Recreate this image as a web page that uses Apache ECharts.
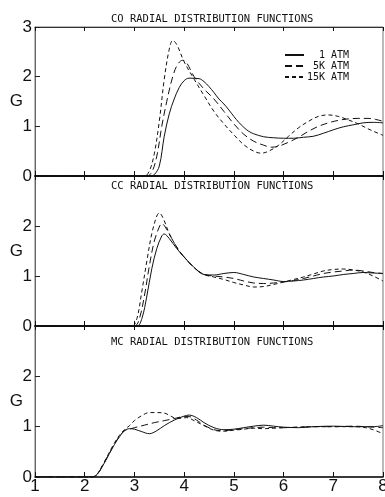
<!DOCTYPE html>
<html><head><meta charset="utf-8">
<script src="https://cdn.jsdelivr.net/npm/echarts@6/dist/echarts.min.js"></script>
<style>html,body{margin:0;padding:0;background:#fff}#c{width:385px;height:497px}</style>
</head><body><div id="c"></div>
<script>
// Panel titles and legend names
const titles = ['CO RADIAL DISTRIBUTION FUNCTIONS','CC RADIAL DISTRIBUTION FUNCTIONS','MC RADIAL DISTRIBUTION FUNCTIONS'];
const names = ['  1 ATM',' 5K ATM','15K ATM'];
const xTicks = [1,2,3,4,5,6,7,8];
const yTicks = [0,1,2,3];

// Panel 1: [R, G]
const p1_1atm = [[1,0],[3.3,0],[3.4,0.03],[3.5,0.2],[3.6,0.8],[3.7,1.25],[3.8,1.55],[3.9,1.78],[4.0,1.92],[4.1,1.97],[4.3,1.96],[4.4,1.9],[4.5,1.8],[4.6,1.68],[4.7,1.55],[4.8,1.45],[4.9,1.33],[5.0,1.2],[5.1,1.08],[5.2,0.98],[5.3,0.9],[5.4,0.85],[5.6,0.79],[5.8,0.77],[6.0,0.76],[6.2,0.76],[6.4,0.78],[6.6,0.8],[6.8,0.86],[7.0,0.93],[7.2,0.99],[7.4,1.03],[7.6,1.07],[7.8,1.08],[8.0,1.07]];
const p1_5k = [[1,0],[3.25,0],[3.35,0.08],[3.45,0.4],[3.55,1.0],[3.65,1.5],[3.77,2.0],[3.87,2.25],[3.97,2.33],[4.05,2.28],[4.2,2.0],[4.4,1.75],[4.6,1.55],[4.8,1.3],[5.0,1.05],[5.2,0.84],[5.4,0.7],[5.6,0.62],[5.75,0.58],[5.9,0.6],[6.1,0.68],[6.3,0.78],[6.5,0.9],[6.7,1.0],[6.9,1.07],[7.1,1.12],[7.3,1.15],[7.5,1.16],[7.7,1.16],[7.85,1.14],[8.0,1.1]];
const p1_15k = [[1,0],[3.2,0],[3.3,0.1],[3.4,0.45],[3.5,1.1],[3.6,1.95],[3.7,2.55],[3.77,2.73],[3.85,2.65],[4.0,2.3],[4.2,1.95],[4.4,1.62],[4.6,1.3],[4.8,1.05],[5.0,0.83],[5.2,0.63],[5.4,0.5],[5.55,0.46],[5.7,0.5],[5.9,0.62],[6.1,0.8],[6.3,0.97],[6.5,1.1],[6.7,1.2],[6.9,1.23],[7.1,1.2],[7.3,1.13],[7.5,1.05],[7.7,0.95],[7.9,0.86],[8.0,0.82]];

// Panel 2
const p2_1atm = [[1,0],[3.05,0],[3.15,0.15],[3.25,0.6],[3.35,1.15],[3.45,1.55],[3.55,1.8],[3.6,1.84],[3.7,1.75],[3.85,1.55],[4.0,1.38],[4.2,1.17],[4.4,1.03],[4.6,1.02],[4.8,1.05],[5.0,1.07],[5.2,1.03],[5.4,0.98],[5.6,0.95],[5.8,0.92],[6.0,0.89],[6.2,0.9],[6.4,0.92],[6.6,0.95],[6.8,0.98],[7.0,1.0],[7.2,1.03],[7.4,1.05],[7.6,1.07],[7.8,1.06],[8.0,1.05]];
const p2_5k = [[1,0],[3.0,0],[3.1,0.15],[3.2,0.6],[3.3,1.2],[3.4,1.7],[3.5,1.98],[3.55,2.05],[3.62,1.98],[3.75,1.75],[3.9,1.5],[4.0,1.38],[4.2,1.17],[4.4,1.03],[4.6,1.0],[4.8,0.98],[5.0,0.95],[5.2,0.9],[5.4,0.86],[5.6,0.85],[5.8,0.86],[6.0,0.88],[6.2,0.91],[6.4,0.95],[6.6,1.0],[6.8,1.05],[7.0,1.08],[7.2,1.1],[7.4,1.12],[7.6,1.1],[7.8,1.07],[8.0,1.05]];
const p2_15k = [[1,0],[2.95,0],[3.05,0.15],[3.15,0.7],[3.25,1.3],[3.35,1.85],[3.45,2.2],[3.5,2.26],[3.58,2.15],[3.7,1.85],[3.85,1.58],[4.0,1.38],[4.2,1.17],[4.4,1.03],[4.6,0.98],[4.8,0.93],[5.0,0.87],[5.2,0.82],[5.4,0.78],[5.6,0.79],[5.8,0.83],[6.0,0.88],[6.2,0.93],[6.4,0.98],[6.6,1.04],[6.8,1.1],[7.0,1.13],[7.2,1.14],[7.4,1.12],[7.6,1.08],[7.8,1.0],[8.0,0.9]];

// Panel 3
const p3_1atm = [[1,0],[2.15,0],[2.25,0.05],[2.35,0.2],[2.5,0.47],[2.6,0.65],[2.7,0.8],[2.8,0.92],[2.9,0.96],[3.0,0.95],[3.15,0.9],[3.3,0.86],[3.45,0.92],[3.6,1.02],[3.8,1.13],[4.0,1.21],[4.1,1.23],[4.25,1.18],[4.4,1.08],[4.6,0.98],[4.8,0.94],[5.0,0.95],[5.2,0.98],[5.4,1.01],[5.6,1.03],[5.8,1.01],[6.0,0.99],[6.3,0.98],[6.6,1.0],[7.0,1.01],[7.4,1.0],[7.8,1.0],[8.0,1.02]];
const p3_5k = [[1,0],[2.15,0],[2.25,0.05],[2.35,0.21],[2.5,0.48],[2.6,0.66],[2.7,0.81],[2.8,0.92],[2.9,0.95],[3.0,0.98],[3.2,1.03],[3.4,1.08],[3.6,1.12],[3.8,1.16],[4.0,1.2],[4.1,1.2],[4.25,1.13],[4.4,1.03],[4.6,0.94],[4.8,0.92],[5.0,0.94],[5.2,0.96],[5.4,0.98],[5.6,0.99],[5.8,0.98],[6.0,0.98],[6.3,0.99],[6.6,1.0],[7.0,1.0],[7.4,1.01],[7.8,0.99],[8.0,0.98]];
const p3_15k = [[1,0],[2.15,0],[2.25,0.06],[2.35,0.22],[2.5,0.5],[2.6,0.68],[2.7,0.83],[2.8,0.94],[2.9,1.02],[3.0,1.12],[3.15,1.22],[3.3,1.28],[3.45,1.28],[3.6,1.27],[3.75,1.2],[3.85,1.16],[3.95,1.17],[4.05,1.18],[4.2,1.12],[4.4,1.02],[4.6,0.93],[4.8,0.91],[5.0,0.93],[5.2,0.95],[5.4,0.97],[5.6,0.96],[5.8,0.97],[6.0,0.98],[6.3,0.99],[6.6,1.0],[7.0,1.0],[7.4,1.0],[7.7,0.97],[8.0,0.86]];

const panels = [[p1_1atm,p1_5k,p1_15k],[p2_1atm,p2_5k,p2_15k],[p3_1atm,p3_5k,p3_15k]];
const dashes = ['solid',[7,4],[4,3]];

const chart = echarts.init(document.getElementById('c'), null, {renderer:'canvas'});
const numFont = {fontFamily:'Liberation Sans', fontSize:17, color:'#111'};
const grids = [{left:35,right:2,top:27,height:149},{left:35,right:2,top:176,height:150},{left:35,right:2,top:326,height:151}];
grids.forEach(g=>{g.show=true; g.borderColor='#777'; g.borderWidth=1; g.backgroundColor='transparent'; g.outerBoundsMode='none'; g.containLabel=false;});

const xAxes = [], yAxes = [], series = [];
for (let i=0;i<3;i++){
  xAxes.push({type:'value', gridIndex:i, min:xTicks[0], max:xTicks[xTicks.length-1], interval:1, position:'bottom',
    axisLine:{show:true, onZero:false, lineStyle:{color:'#111', width: i<2?2:1.5}},
    axisTick:{show:true, inside:true, length:5, lineStyle:{color:'#111', width:1}},
    axisLabel:{show:i===2, margin:1, ...numFont, formatter:v=>xTicks.includes(v)?String(v):''},
    splitLine:{show:false},
    name: i===2?'R':'', nameLocation:'middle', nameGap:13, nameTextStyle:{...numFont}});
  yAxes.push({type:'value', gridIndex:i, min:yTicks[0], max:yTicks[yTicks.length-1], interval:1,
    axisLine:{show:true, lineStyle:{color:'#666', width:1}},
    axisTick:{show:true, inside:true, length:5, lineStyle:{color:'#222'}},
    axisLabel:{margin:3, ...numFont, formatter:v=>(i>0 && v===3)?'':String(v)},
    splitLine:{show:false},
    name:'G', nameLocation:'middle', nameGap:12, nameRotate:0, nameMoveOverlap:false, nameTextStyle:{...numFont}});
}
for (let i=0;i<3;i++){
  xAxes.push({type:'value', gridIndex:i, min:1, max:8, interval:1, position:'top',
    axisLine:{show:i===0, onZero:false, lineStyle:{color:'#333', width:1}},
    axisTick:{show:true, inside:true, length:4, lineStyle:{color:'#111'}},
    axisLabel:{show:false}, splitLine:{show:false}});
}
panels.forEach((p,i)=>{
  p.forEach((d,k)=>{
    series.push({type:'line', name:names[k], xAxisIndex:i, yAxisIndex:i, data:d, symbol:'none', smooth:0.35,
      lineStyle:{color:'#111', width:1, type:dashes[k]}, itemStyle:{color:'#111'}, silent:true, animation:false});
  });
});

chart.setOption({
  animation:false,
  backgroundColor:'#fff',
  title: titles.map((t,i)=>({text:t, left:111, top:[14,181,337][i], padding:0,
    textStyle:{fontFamily:'DejaVu Sans Mono', fontSize:10.5, fontWeight:'normal', color:'#111'}})),
  legend:{data:names, orient:'vertical', left:284, top:50, itemWidth:19, itemHeight:8, itemGap:1, padding:0,
    itemStyle:{color:'rgba(0,0,0,0)', borderColor:'rgba(0,0,0,0)', borderWidth:0},
    textStyle:{fontFamily:'DejaVu Sans Mono', fontSize:10, color:'#111', padding:[0,0,0,-2]}},
  grid:grids, xAxis:xAxes, yAxis:yAxes, series:series
});
</script></body></html>
